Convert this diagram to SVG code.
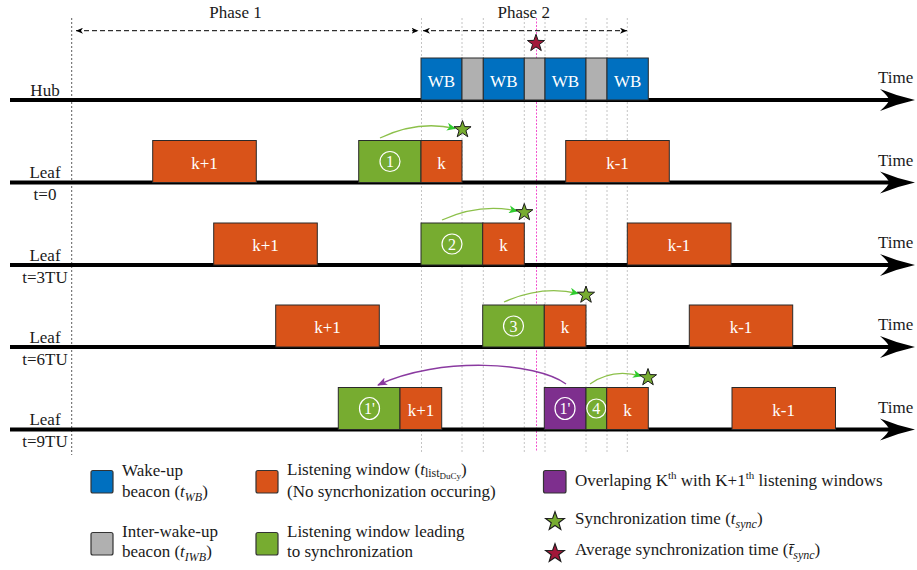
<svg xmlns="http://www.w3.org/2000/svg" width="917" height="570" viewBox="0 0 917 570">
<style>
.t{font-family:"Liberation Serif","Times New Roman",serif;font-size:17px;fill:#1a1a1a}
.c{text-anchor:middle}
.w{fill:#fff;text-anchor:middle}
.it{font-style:italic}
.ax{stroke:#000;stroke-width:4;fill:none}
.wb{fill:#0070C0;stroke:#2a2a2a;stroke-width:1}
.iwb{fill:#B0B0B0;stroke:#2a2a2a;stroke-width:1}
.lw{fill:#D95319;stroke:#2a2a2a;stroke-width:1}
.gw{fill:#77AC30;stroke:#2a2a2a;stroke-width:1}
.pw{fill:#7E2F8E;stroke:#2a2a2a;stroke-width:1}
.vl{stroke:#b5b5b5;stroke-width:0.8;stroke-dasharray:2 2}
.pk{stroke:#f040c8;stroke-width:0.9;stroke-dasharray:2 1.5}
.bl{stroke:#333;stroke-width:0.8;stroke-dasharray:2 2}
.ph{stroke:#000;stroke-width:1;stroke-dasharray:5 3;fill:none}
.cr{fill:none;stroke:#fff;stroke-width:1.2}
.ga{stroke:#8cc04a;stroke-width:1.3;fill:none}
.pa{stroke:#8a3aa0;stroke-width:1.5;fill:none}
.gs{fill:#77AC30;stroke:#1a1a1a;stroke-width:1}
.rs{fill:#A2183A;stroke:#1a1a1a;stroke-width:1}
.lg{stroke:#333;stroke-width:1.2}
</style>
<defs>
<path id="star" d="M0,-9 L2.12,-2.91 L8.56,-2.78 L3.42,1.11 L5.29,7.28 L0,3.6 L-5.29,7.28 L-3.42,1.11 L-8.56,-2.78 L-2.12,-2.91 Z"/>
<path id="ahead" d="M35,0 Q17,-4 0,-11 Q9,-3 9,0 Q9,3 0,11 Q17,4 35,0 Z" fill="#000"/>
<marker id="mph" markerUnits="userSpaceOnUse" viewBox="0 0 7 6" markerWidth="7" markerHeight="6" refX="7" refY="3" orient="auto-start-reverse">
<path d="M0,0 L7,3 L0,6 L2,3 Z" fill="#000"/>
</marker>
<marker id="mg" markerUnits="userSpaceOnUse" viewBox="0 0 9 8" markerWidth="9" markerHeight="8" refX="8" refY="4" orient="auto">
<path d="M0,0 L9,4 L0,8 L2.5,4 Z" fill="#2ecc2e"/>
</marker>
<marker id="mp" markerUnits="userSpaceOnUse" viewBox="0 0 10 8" markerWidth="10" markerHeight="8" refX="9" refY="4" orient="auto">
<path d="M0,0 L10,4 L0,8 L2.5,4 Z" fill="#8a3aa0"/>
</marker>
</defs>

<g id="guides">
<line class="bl" x1="71.7" y1="18" x2="71.7" y2="455"/>
<line class="vl" x1="421.5" y1="18" x2="421.5" y2="452"/>
<line class="vl" x1="462" y1="18" x2="462" y2="452"/>
<line class="vl" x1="483.3" y1="18" x2="483.3" y2="452"/>
<line class="vl" x1="524.3" y1="18" x2="524.3" y2="452"/>
<line class="vl" x1="545" y1="18" x2="545" y2="452"/>
<line class="vl" x1="586" y1="18" x2="586" y2="452"/>
<line class="vl" x1="607" y1="18" x2="607" y2="452"/>
<line class="vl" x1="627.3" y1="18" x2="627.3" y2="452"/>
<line class="pk" x1="536.5" y1="18" x2="536.5" y2="452"/>
</g>

<g id="phases">
<line class="ph" x1="76" y1="30.7" x2="418.5" y2="30.7" marker-start="url(#mph)" marker-end="url(#mph)"/>
<line class="ph" x1="423" y1="30.7" x2="627" y2="30.7" marker-start="url(#mph)" marker-end="url(#mph)"/>
<text class="t c" x="235.5" y="18">Phase 1</text>
<text class="t c" x="523.7" y="18">Phase 2</text>
</g>

<g id="axes">
<path class="ax" d="M10,100 H892"/><use href="#ahead" x="880" y="100"/>
<path class="ax" d="M10,182.5 H892"/><use href="#ahead" x="880" y="182.5"/>
<path class="ax" d="M10,265 H892"/><use href="#ahead" x="880" y="265"/>
<path class="ax" d="M10,347 H892"/><use href="#ahead" x="880" y="347"/>
<path class="ax" d="M10,429.5 H892"/><use href="#ahead" x="880" y="429.5"/>
<text class="t" x="878" y="83">Time</text>
<text class="t" x="878" y="166">Time</text>
<text class="t" x="878" y="248">Time</text>
<text class="t" x="878" y="330">Time</text>
<text class="t" x="878" y="413">Time</text>
<text class="t c" x="45" y="96">Hub</text>
<text class="t c" x="45" y="178">Leaf</text>
<text class="t c" x="45" y="200">t=0</text>
<text class="t c" x="45" y="260.5">Leaf</text>
<text class="t c" x="45" y="282.5">t=3TU</text>
<text class="t c" x="45" y="342.5">Leaf</text>
<text class="t c" x="45" y="364.5">t=6TU</text>
<text class="t c" x="45" y="425">Leaf</text>
<text class="t c" x="45" y="447">t=9TU</text>
</g>

<g id="hub">
<g id="wb1"><rect class="wb" x="421" y="58" width="41" height="42"/><text class="t w" x="441.5" y="87">WB</text></g>
<g id="iwb1"><rect class="iwb" x="462" y="58" width="21.3" height="42"/></g>
<g id="wb2"><rect class="wb" x="483.3" y="58" width="41" height="42"/><text class="t w" x="503.8" y="87">WB</text></g>
<g id="iwb2"><rect class="iwb" x="524.3" y="58" width="20.7" height="42"/></g>
<g id="wb3"><rect class="wb" x="545" y="58" width="41" height="42"/><text class="t w" x="565.5" y="87">WB</text></g>
<g id="iwb3"><rect class="iwb" x="586" y="58" width="21" height="42"/></g>
<g id="wb4"><rect class="wb" x="607" y="58" width="41.3" height="42"/><text class="t w" x="627.6" y="87">WB</text></g>
<g id="avgstar"><use href="#star" class="rs" x="536" y="43.3"/></g>
</g>

<g id="leaf0">
<g id="l0-kp1"><rect class="lw" x="152.7" y="140.5" width="103.6" height="42"/><text class="t w" x="204.5" y="168.5">k+1</text></g>
<g id="l0-g"><rect class="gw" x="358.7" y="140.5" width="62.3" height="42"/><circle class="cr" cx="390" cy="161.5" r="10"/><text class="t w" x="390" y="167" style="font-size:16px">1</text></g>
<g id="l0-k"><rect class="lw" x="421" y="140.5" width="41" height="42"/><text class="t w" x="441.5" y="168.5">k</text></g>
<g id="l0-km1"><rect class="lw" x="565.7" y="140.5" width="103.6" height="42"/><text class="t w" x="617.5" y="168.5">k-1</text></g>
</g>

<g id="leaf3">
<g id="l3-kp1"><rect class="lw" x="213.7" y="223" width="103.6" height="42"/><text class="t w" x="265.5" y="251">k+1</text></g>
<g id="l3-g"><rect class="gw" x="421" y="223" width="61.7" height="42"/><circle class="cr" cx="452" cy="244" r="10"/><text class="t w" x="452" y="249.5" style="font-size:16px">2</text></g>
<g id="l3-k"><rect class="lw" x="482.7" y="223" width="41.6" height="42"/><text class="t w" x="503.5" y="251">k</text></g>
<g id="l3-km1"><rect class="lw" x="627.3" y="223" width="103.7" height="42"/><text class="t w" x="679" y="251">k-1</text></g>
</g>

<g id="leaf6">
<g id="l6-kp1"><rect class="lw" x="275.7" y="305" width="103.6" height="42"/><text class="t w" x="327.5" y="333">k+1</text></g>
<g id="l6-g"><rect class="gw" x="482.7" y="305" width="61.6" height="42"/><circle class="cr" cx="513.5" cy="326" r="10"/><text class="t w" x="513.5" y="331.5" style="font-size:16px">3</text></g>
<g id="l6-k"><rect class="lw" x="544.3" y="305" width="41.7" height="42"/><text class="t w" x="565" y="333">k</text></g>
<g id="l6-km1"><rect class="lw" x="689.3" y="305" width="103.4" height="42"/><text class="t w" x="741" y="333">k-1</text></g>
</g>

<g id="leaf9">
<g id="l9-g"><rect class="gw" x="338.3" y="387.5" width="61.7" height="42"/><ellipse class="cr" cx="369.5" cy="408.5" rx="10" ry="11"/><text class="t w" x="369.5" y="414" style="font-size:16px">1'</text></g>
<g id="l9-kp1"><rect class="lw" x="400" y="387.5" width="41.7" height="42"/><text class="t w" x="421" y="415.5">k+1</text></g>
<g id="l9-p"><rect class="pw" x="544.3" y="387.5" width="41.7" height="42"/><ellipse class="cr" cx="565" cy="408.5" rx="10" ry="11"/><text class="t w" x="565" y="414" style="font-size:16px">1'</text></g>
<g id="l9-g4"><rect class="gw" x="586" y="387.5" width="20.7" height="42"/><circle class="cr" cx="596.3" cy="408.5" r="9.5"/><text class="t w" x="596.3" y="414" style="font-size:16px">4</text></g>
<g id="l9-k"><rect class="lw" x="606.7" y="387.5" width="41.6" height="42"/><text class="t w" x="627.5" y="415.5">k</text></g>
<g id="l9-km1"><rect class="lw" x="732" y="387.5" width="103.5" height="42"/><text class="t w" x="783.7" y="415.5">k-1</text></g>
</g>

<g id="connectors">
<path class="ga" d="M380,138 Q418,120 455,128.5" marker-end="url(#mg)"/>
<path class="ga" d="M442,220 Q480,203 517,211" marker-end="url(#mg)"/>
<path class="ga" d="M504,302 Q542,285 578,293.5" marker-end="url(#mg)"/>
<path class="ga" d="M590,384 Q612,368 641,376" marker-end="url(#mg)"/>
<path class="pa" d="M566,384 C536,362 440,356 378,385" marker-end="url(#mp)"/>
</g>

<g id="syncstars">
<use href="#star" class="gs" x="462.5" y="129.5"/>
<use href="#star" class="gs" x="524.3" y="212.5"/>
<use href="#star" class="gs" x="586" y="295"/>
<use href="#star" class="gs" x="648" y="377.5"/>
</g>

<g id="legend">
<rect class="wb lg" x="91" y="470.5" width="22" height="22.5" rx="2"/>
<text class="t" x="122" y="476">Wake-up</text>
<text class="t" x="122" y="497">beacon (<tspan class="it">t</tspan><tspan class="it" style="font-size:12px" dy="4">WB</tspan><tspan dy="-4">)</tspan></text>
<rect class="iwb lg" x="91" y="532.5" width="22" height="22.5" rx="2"/>
<text class="t" x="122" y="537">Inter-wake-up</text>
<text class="t" x="122" y="557">beacon (<tspan class="it">t</tspan><tspan class="it" style="font-size:12px" dy="4">IWB</tspan><tspan dy="-4">)</tspan></text>
<rect class="lw lg" x="256" y="470.5" width="22" height="22.5" rx="2"/>
<text class="t" x="287" y="475">Listening window (<tspan class="it">t</tspan><tspan style="font-size:12px" dy="2">list</tspan><tspan style="font-size:9px" dy="2">DuCy</tspan><tspan dy="-4">)</tspan></text>
<text class="t" x="287" y="497">(No syncrhonization occuring)</text>
<rect class="gw lg" x="256" y="532.5" width="22" height="22.5" rx="2"/>
<text class="t" x="287" y="537">Listening window leading</text>
<text class="t" x="287" y="557">to synchronization</text>
<rect class="pw lg" x="543.5" y="470.5" width="22.5" height="22.5" rx="2"/>
<text class="t" x="575" y="486">Overlaping K<tspan style="font-size:11px" dy="-7">th</tspan><tspan dy="7"> with K+1</tspan><tspan style="font-size:11px" dy="-7">th</tspan><tspan dy="7"> listening windows</tspan></text>
<use href="#star" class="gs" x="555" y="521.5" transform="translate(555 521.5) scale(1.1) translate(-555 -521.5)"/>
<text class="t" x="575" y="524">Synchronization time (<tspan class="it">t</tspan><tspan class="it" style="font-size:12px" dy="4">sync</tspan><tspan dy="-4">)</tspan></text>
<use href="#star" class="rs" x="555" y="553.5" transform="translate(555 553.5) scale(1.1) translate(-555 -553.5)"/>
<text class="t" x="575" y="555">Average synchronization time (<tspan class="it">t̄</tspan><tspan class="it" style="font-size:12px" dy="4">sync</tspan><tspan dy="-4">)</tspan></text>
</g>
</svg>
